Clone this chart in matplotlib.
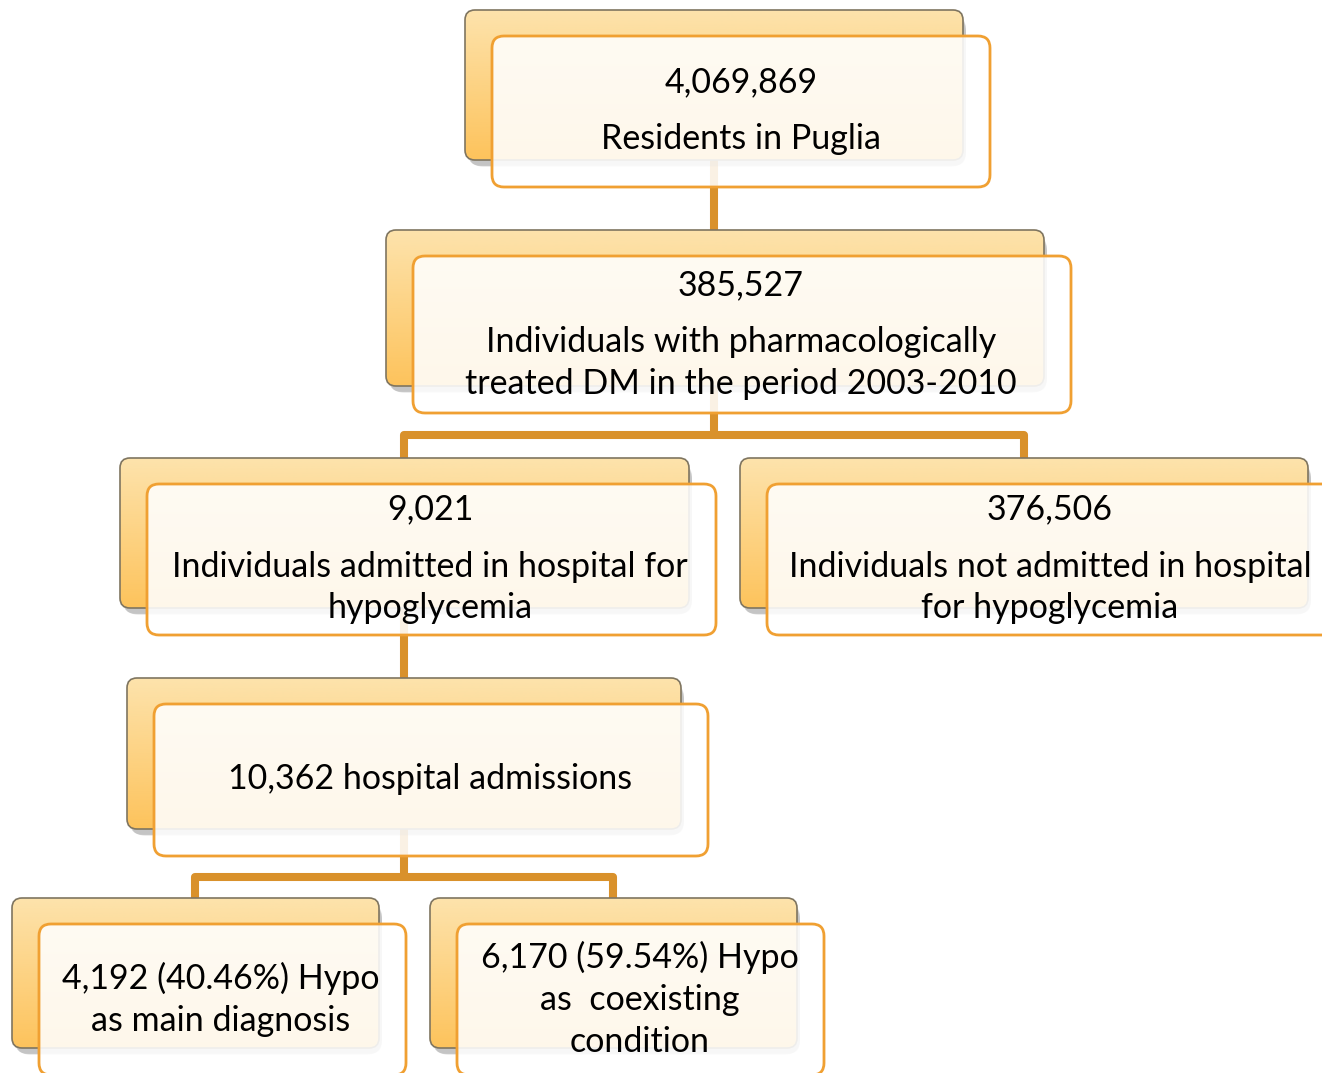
import matplotlib
matplotlib.use("Agg")
import matplotlib.pyplot as plt
import numpy as np
from matplotlib.patches import FancyBboxPatch
from matplotlib.colors import LinearSegmentedColormap

# ---- data ----
node_lines = [
    ["4,069,869", "Residents in Puglia"],
    ["385,527", "Individuals with pharmacologically", "treated DM in the period 2003-2010"],
    ["9,021", "Individuals admitted in hospital for", "hypoglycemia"],
    ["376,506", "Individuals not admitted in hospital", "for hypoglycemia"],
    ["10,362 hospital admissions"],
    ["4,192 (40.46%) Hypo", "as main diagnosis"],
    ["6,170 (59.54%) Hypo", "as  coexisting", "condition"],
]

# layout (pixel coords, y down): back box x0, y0, x1, y1
back_boxes = [
    (465, 10, 963, 160),
    (386, 230, 1044, 386),
    (120, 458, 689, 608),
    (740, 458, 1308, 608),
    (127, 678, 681, 829),
    (12, 898, 379, 1048),
    (430, 898, 797, 1048),
]
front_off = (27, 26)
text_x = [741, 741, 430, 1050, 430, 221, 640]
text_baselines = [
    [92, 149],
    [295, 352, 394],
    [519, 577, 618],
    [519, 577, 618],
    [789],
    [989, 1031],
    [968, 1010, 1052],
]
# connectors (polyline points)
connectors = [
    [(714, 160), (714, 230)],
    [(714, 386), (714, 435), (404, 435), (404, 458)],
    [(714, 435), (1024, 435), (1024, 458)],
    [(404, 608), (404, 678)],
    [(404, 829), (404, 877), (195, 877), (195, 898)],
    [(404, 877), (613, 877), (613, 898)],
]

W, H = 1322, 1073
fig = plt.figure(figsize=(W / 100, H / 100), dpi=100)
ax = fig.add_axes([0, 0, 1, 1])
ax.set_xlim(0, W)
ax.set_ylim(H, 0)
ax.axis("off")

conn_color = "#D9912B"
for pts in connectors:
    xs, ys = zip(*pts)
    ax.plot(xs, ys, color=conn_color, lw=5.8, solid_joinstyle="round",
            solid_capstyle="butt", zorder=1)

cmap = LinearSegmentedColormap.from_list("g", ["#FDE3AC", "#FDC35C"])
grad = np.linspace(0, 1, 256).reshape(-1, 1)

font = ["Lato", "DejaVu Sans"]
for i, (x0, y0, x1, y1) in enumerate(back_boxes):
    w, h = x1 - x0, y1 - y0
    # shadow
    for k, a in enumerate([0.06, 0.08, 0.11]):
        s = 6 - k * 1.5
        sh = FancyBboxPatch((x0 + 3, y0 + 5 + s * 0.3), w, h,
                            boxstyle=f"round,pad=0,rounding_size={10 + s}",
                            fc="#000000", ec="none", alpha=a, zorder=2)
        ax.add_patch(sh)
    back = FancyBboxPatch((x0, y0), w, h, boxstyle="round,pad=0,rounding_size=10",
                          fc="none", ec="#7F7560", lw=1.2, zorder=4)
    ax.add_patch(back)
    im = ax.imshow(grad, extent=(x0, x1, y1, y0), cmap=cmap, aspect="auto", zorder=3)
    clip = FancyBboxPatch((x0, y0), w, h, boxstyle="round,pad=0,rounding_size=10",
                          fc="none", ec="none", transform=ax.transData)
    ax.add_patch(clip)
    im.set_clip_path(clip)
    # front box
    fx0, fy0 = x0 + front_off[0], y0 + front_off[1]
    front = FancyBboxPatch((fx0, fy0), w, h + 1, boxstyle="round,pad=0,rounding_size=12",
                           fc=(1, 1, 1, 0.88), ec="#F0A032", lw=2.0, zorder=5)
    ax.add_patch(front)
    for line, by in zip(node_lines[i], text_baselines[i]):
        ax.text(text_x[i], by, line, ha="center", va="baseline", fontsize=24.5,
                family=font, color="#000000", zorder=6)

fig.savefig("out.png", dpi=100)
